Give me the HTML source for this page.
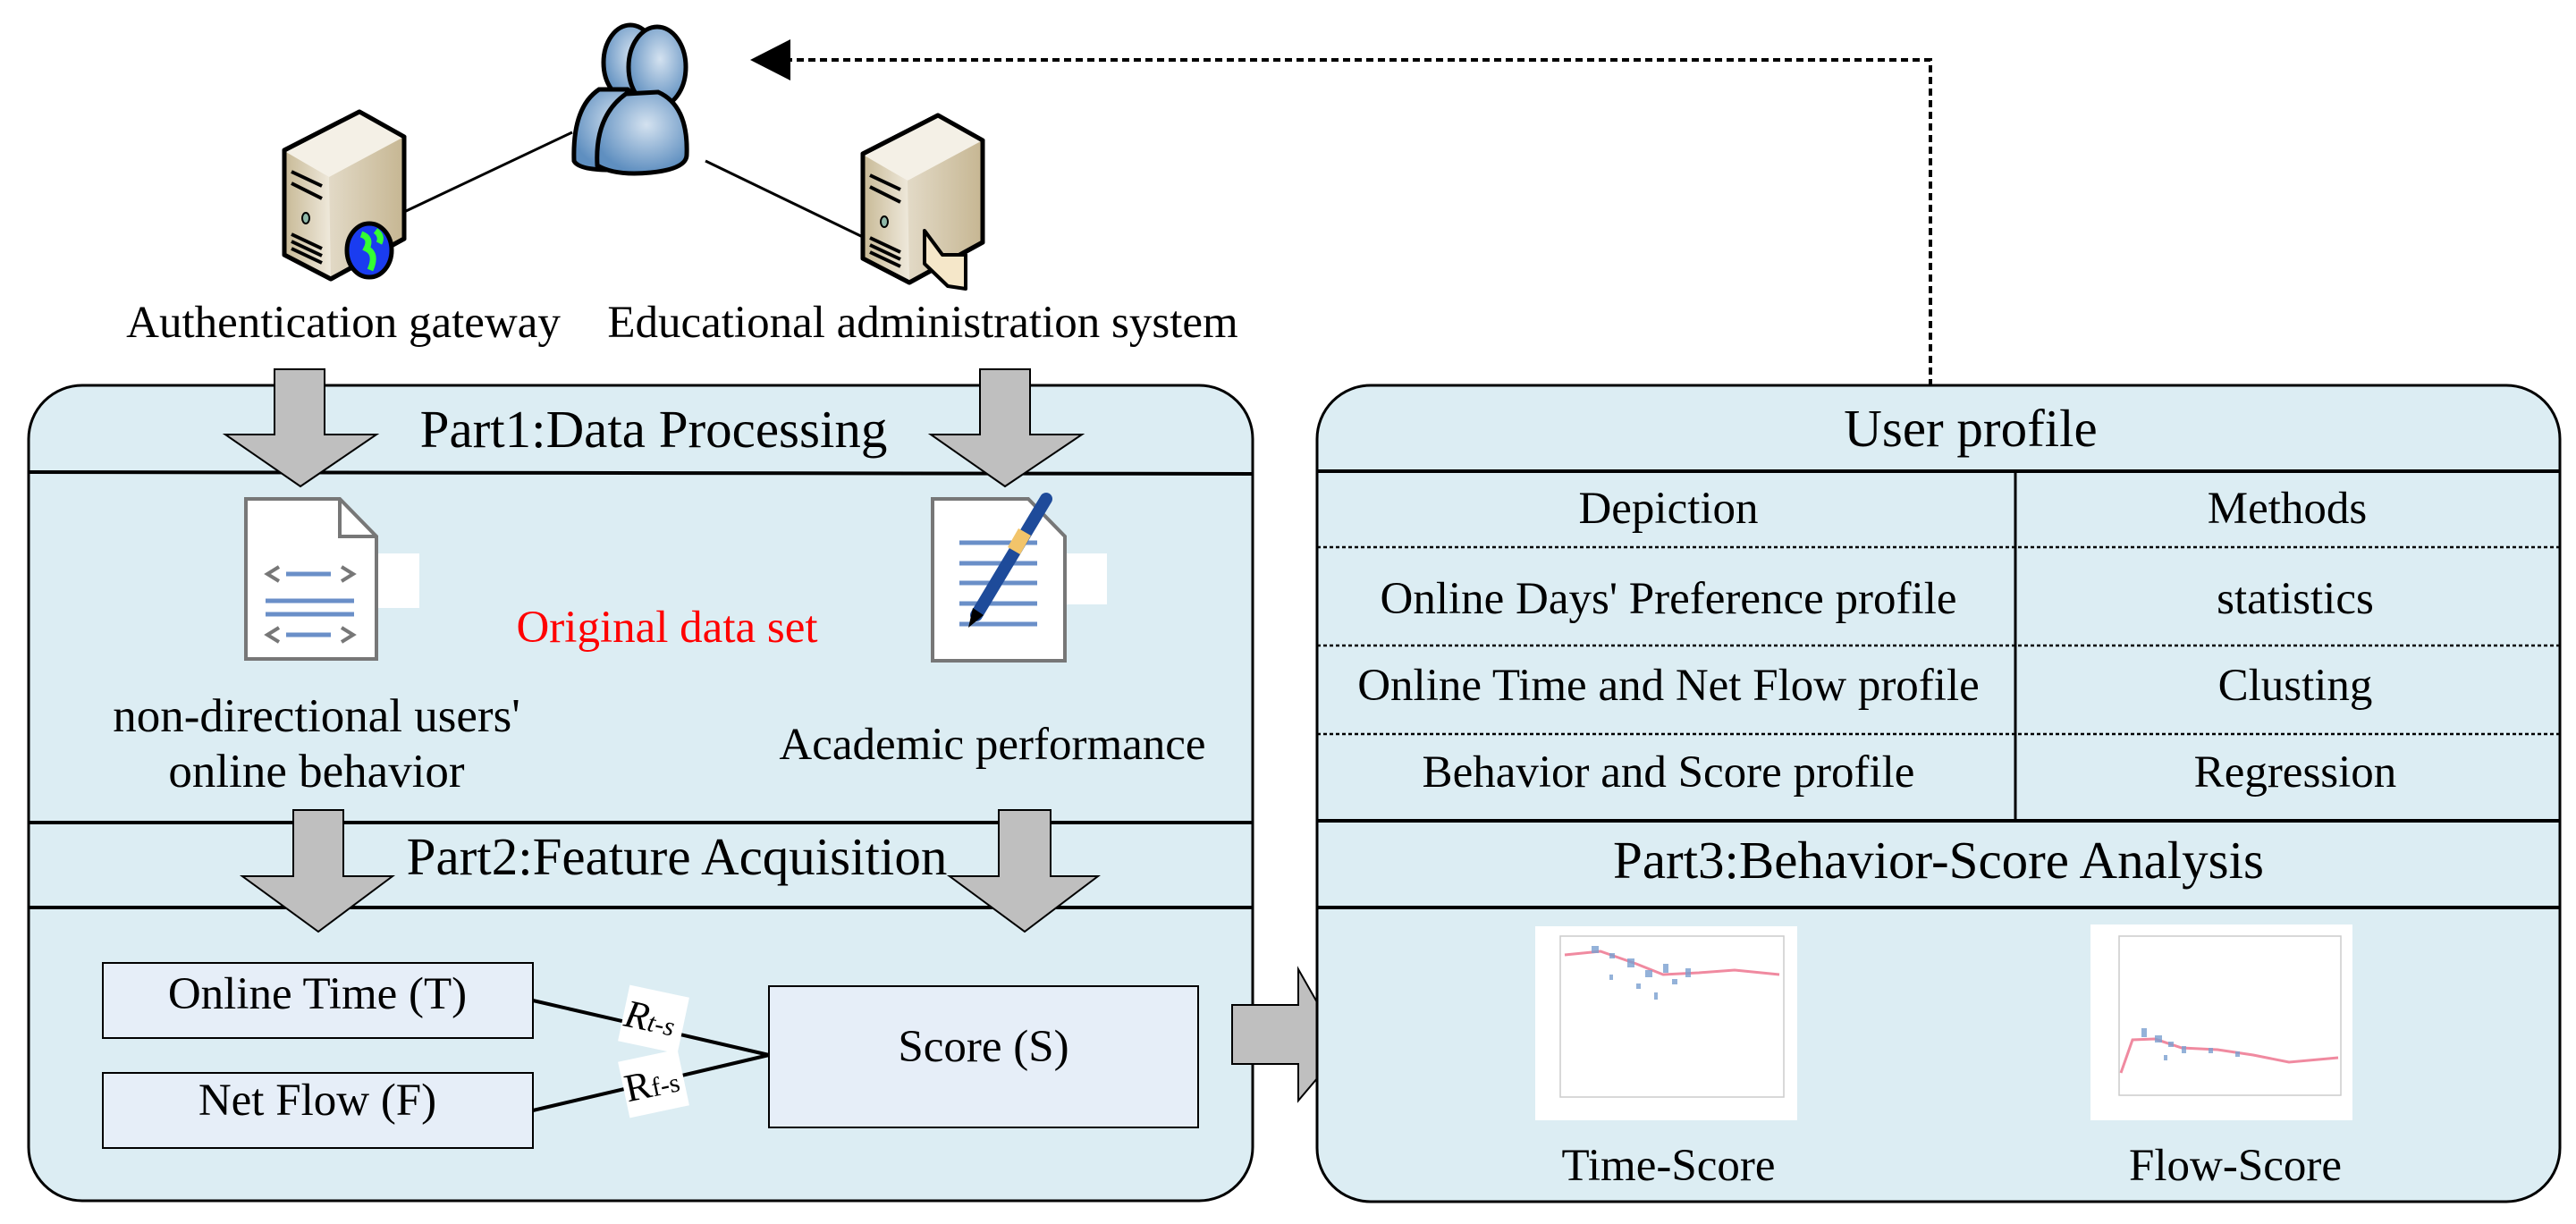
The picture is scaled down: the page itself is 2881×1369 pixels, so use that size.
<!DOCTYPE html>
<html><head><meta charset="utf-8"><style>
html,body{margin:0;padding:0;background:#fff;}
svg{display:block;}
text{font-family:"Liberation Serif",serif;fill:#000;}
</style></head><body>
<svg width="2881" height="1369" viewBox="0 0 2881 1369" xmlns="http://www.w3.org/2000/svg">
<defs>
<radialGradient id="pg" cx="0.55" cy="0.4" r="0.6"><stop offset="0" stop-color="#d4e2f0"/><stop offset="1" stop-color="#5f8fc0"/></radialGradient>
<linearGradient id="sv" x1="0" x2="1"><stop offset="0" stop-color="#f3efe6"/><stop offset="1" stop-color="#c6b692"/></linearGradient>
<linearGradient id="sv2" x1="0" x2="1"><stop offset="0" stop-color="#c9bb98"/><stop offset="1" stop-color="#efe9dc"/></linearGradient>
<g id="srv">
<polygon points="318,168 402,125 452,153 452,267 370,312 318,285" fill="url(#sv)" stroke="#000" stroke-width="5" stroke-linejoin="round"/>
<polygon points="320,170 368,198 370,310 320,284" fill="url(#sv2)"/>
<polygon points="320,170 402,127 450,154 368,198" fill="#f4f0e6"/>
<polygon points="318,168 402,125 452,153 452,267 370,312 318,285" fill="none" stroke="#000" stroke-width="5" stroke-linejoin="round"/>
<g stroke="#000" stroke-width="4"><line x1="326" y1="192" x2="360" y2="208"/><line x1="326" y1="205" x2="360" y2="222"/><line x1="326" y1="262" x2="360" y2="278"/><line x1="326" y1="270" x2="360" y2="286"/><line x1="326" y1="278" x2="360" y2="294"/></g>
<ellipse cx="342" cy="244" rx="4" ry="6" fill="#8fb8a8" stroke="#000" stroke-width="2"/>
</g>
</defs>
<polyline points="2159,432 2159,67 866,67" fill="none" stroke="#000" stroke-width="4" stroke-dasharray="8,5"/>
<polygon points="839,67 884,44 884,90" fill="#000"/>
<line x1="452" y1="237" x2="640" y2="148" stroke="#000" stroke-width="3"/>
<line x1="789" y1="180" x2="969" y2="267" stroke="#000" stroke-width="3"/>
<use href="#srv"/>
<ellipse cx="413" cy="280" rx="25" ry="30" fill="#1a3cf0" stroke="#000" stroke-width="5"/>
<path d="M404,262 q12,4 6,16 q12,6 4,24 M420,258 q8,6 4,14" stroke="#3f3" stroke-width="7" fill="none"/>
<use href="#srv" transform="translate(647,4)"/>
<polygon points="1034,258 1054,285 1080,285 1080,323 1060,320 1034,295" fill="#f5e7c9" stroke="#000" stroke-width="4" stroke-linejoin="round"/>
<g stroke="#000" stroke-width="5">
<ellipse cx="705" cy="70" rx="30" ry="42" fill="url(#pg)"/>
<path d="M670,100 q-30,20 -28,80 q5,10 40,10 l50,-10 q0,-60 -30,-80z" fill="url(#pg)"/>
<ellipse cx="735" cy="75" rx="32" ry="45" fill="url(#pg)"/>
<path d="M700,105 q-35,25 -32,80 q20,12 60,8 q40,-4 40,-20 q2,-55 -32,-70z" fill="url(#pg)"/>
</g>
<text x="384" y="377" font-size="51" text-anchor="middle">Authentication gateway</text>
<text x="1032" y="377" font-size="51" text-anchor="middle">Educational administration system</text>

<rect x="32" y="431" width="1369" height="912" rx="60" fill="#dcedf3" stroke="#000" stroke-width="3"/>
<line x1="32" y1="528" x2="1401" y2="530" stroke="#000" stroke-width="4"/>
<line x1="32" y1="920" x2="1401" y2="920" stroke="#000" stroke-width="4"/>
<line x1="32" y1="1015" x2="1401" y2="1015" stroke="#000" stroke-width="4"/>
<text x="731" y="500" font-size="59" text-anchor="middle">Part1:Data Processing</text>
<text x="757" y="978" font-size="59" text-anchor="middle">Part2:Feature Acquisition</text>
<g fill="#bfbfbf" stroke="#000" stroke-width="2">
<polygon points="307,413 363,413 363,486 421,486 336,544 252,486 307,486"/>
<polygon points="1096,413 1152,413 1152,486 1210,486 1124,544 1041,486 1096,486"/>
<polygon points="328,906 384,906 384,980 439,980 356,1042 271,980 328,980"/>
<polygon points="1117,906 1175,906 1175,980 1228,980 1146,1042 1062,980 1117,980"/>
<polygon points="1378,1124 1452,1124 1452,1084 1502,1172 1452,1231 1452,1190 1378,1190"/>
</g>
<rect x="421" y="619" width="48" height="61" fill="#fff"/>
<path d="M275,558 L380,558 L421,600 L421,737 L275,737Z" fill="#fff" stroke="#777" stroke-width="4"/>
<path d="M380,558 L380,600 L421,600" fill="none" stroke="#777" stroke-width="4"/>
<g stroke="#6a8fc8" stroke-width="5"><line x1="320" y1="642" x2="370" y2="642"/><line x1="297" y1="672" x2="396" y2="672"/><line x1="297" y1="687" x2="396" y2="687"/><line x1="320" y1="710" x2="370" y2="710"/></g>
<g stroke="#777" stroke-width="4" fill="none"><polyline points="312,634 299,642 312,650"/><polyline points="382,634 395,642 382,650"/><polyline points="312,702 299,710 312,718"/><polyline points="382,702 395,710 382,718"/></g>
<rect x="1191" y="619" width="47" height="57" fill="#fff"/>
<path d="M1043,558 L1150,558 L1191,600 L1191,739 L1043,739Z" fill="#fff" stroke="#777" stroke-width="4"/>
<g stroke="#6a8fc8" stroke-width="5"><line x1="1073" y1="607" x2="1160" y2="607"/><line x1="1073" y1="630" x2="1160" y2="630"/><line x1="1073" y1="652" x2="1160" y2="652"/><line x1="1073" y1="675" x2="1160" y2="675"/><line x1="1073" y1="698" x2="1160" y2="698"/></g>
<line x1="1170" y1="558" x2="1092" y2="688" stroke="#1e4b9a" stroke-width="14" stroke-linecap="round"/>
<line x1="1146" y1="595" x2="1134" y2="616" stroke="#f2c46a" stroke-width="16"/>
<polygon points="1083,702 1088,680 1100,688" fill="#000"/>
<text x="746" y="718" font-size="51" text-anchor="middle" style="fill:#f00">Original data set</text>
<text x="354" y="818" font-size="53" text-anchor="middle">non-directional users'</text>
<text x="354" y="880" font-size="53" text-anchor="middle">online behavior</text>
<text x="1110" y="849" font-size="51" text-anchor="middle">Academic performance</text>
<g fill="#e6eef8" stroke="#000" stroke-width="2">
<rect x="115" y="1077" width="481" height="84"/>
<rect x="115" y="1200" width="481" height="84"/>
<rect x="860" y="1103" width="480" height="158"/>
</g>
<text x="355" y="1128" font-size="51" text-anchor="middle">Online Time (T)</text>
<text x="355" y="1247" font-size="51" text-anchor="middle">Net Flow (F)</text>
<text x="1100" y="1187" font-size="51" text-anchor="middle">Score (S)</text>
<line x1="596" y1="1119" x2="860" y2="1180" stroke="#000" stroke-width="4"/>
<line x1="596" y1="1242" x2="860" y2="1180" stroke="#000" stroke-width="4"/>
<g transform="translate(731,1140) rotate(12)"><rect x="-34" y="-32" width="68" height="64" fill="#fff"/><text x="-4" y="14" font-size="44" font-style="italic" text-anchor="middle">R<tspan font-size="30">t-s</tspan></text></g>
<g transform="translate(731,1212) rotate(-12)"><rect x="-34" y="-32" width="68" height="64" fill="#fff"/><text x="-2" y="14" font-size="44" text-anchor="middle">R<tspan font-size="30">f-s</tspan></text></g>

<rect x="1473" y="431" width="1390" height="913" rx="60" fill="#dcedf3" stroke="#000" stroke-width="3"/>
<line x1="1473" y1="527" x2="2863" y2="527" stroke="#000" stroke-width="4"/>
<line x1="1473" y1="918" x2="2863" y2="918" stroke="#000" stroke-width="4"/>
<line x1="1473" y1="1015" x2="2863" y2="1015" stroke="#000" stroke-width="4"/>
<line x1="2254" y1="527" x2="2254" y2="918" stroke="#000" stroke-width="3"/>
<g stroke="#000" stroke-width="2.5" stroke-dasharray="4,3"><line x1="1473" y1="612" x2="2863" y2="612"/><line x1="1473" y1="722" x2="2863" y2="722"/><line x1="1473" y1="821" x2="2863" y2="821"/></g>
<text x="2204" y="499" font-size="59" text-anchor="middle">User profile</text>
<g font-size="51" text-anchor="middle">
<text x="1866" y="585">Depiction</text><text x="2558" y="585">Methods</text>
<text x="1866" y="686">Online Days' Preference profile</text><text x="2567" y="686">statistics</text>
<text x="1866" y="783">Online Time and Net Flow profile</text><text x="2567" y="783">Clusting</text>
<text x="1866" y="880">Behavior and Score profile</text><text x="2567" y="880">Regression</text>
</g>
<text x="2168" y="982" font-size="59" text-anchor="middle">Part3:Behavior-Score Analysis</text>
<rect x="1717" y="1036" width="293" height="217" fill="#fff"/>
<rect x="1745" y="1047" width="250" height="180" fill="none" stroke="#ccc" stroke-width="1.5"/>
<polyline points="1750,1068 1790,1064 1830,1078 1860,1090 1900,1088 1940,1085 1990,1090" fill="none" stroke="#f08aa0" stroke-width="3"/>
<g fill="#7aa0d0" opacity="0.8"><rect x="1780" y="1058" width="8" height="8"/><rect x="1800" y="1066" width="6" height="6"/><rect x="1820" y="1072" width="8" height="10"/><rect x="1840" y="1085" width="8" height="8"/><rect x="1860" y="1078" width="6" height="10"/><rect x="1870" y="1095" width="6" height="6"/><rect x="1885" y="1083" width="6" height="10"/><rect x="1830" y="1100" width="5" height="6"/><rect x="1850" y="1110" width="4" height="8"/><rect x="1800" y="1090" width="4" height="6"/></g>
<rect x="2338" y="1034" width="293" height="219" fill="#fff"/>
<rect x="2370" y="1047" width="248" height="178" fill="none" stroke="#ccc" stroke-width="1.5"/>
<polyline points="2372,1200 2385,1163 2410,1162 2440,1172 2480,1174 2520,1180 2560,1188 2615,1183" fill="none" stroke="#f08aa0" stroke-width="3"/>
<g fill="#7aa0d0" opacity="0.8"><rect x="2395" y="1150" width="6" height="10"/><rect x="2410" y="1158" width="8" height="8"/><rect x="2425" y="1165" width="6" height="6"/><rect x="2440" y="1170" width="5" height="8"/><rect x="2470" y="1172" width="5" height="6"/><rect x="2500" y="1176" width="5" height="6"/><rect x="2420" y="1180" width="4" height="6"/></g>
<text x="1866" y="1320" font-size="51" text-anchor="middle">Time-Score</text>
<text x="2500" y="1320" font-size="51" text-anchor="middle">Flow-Score</text>
</svg>
</body></html>
